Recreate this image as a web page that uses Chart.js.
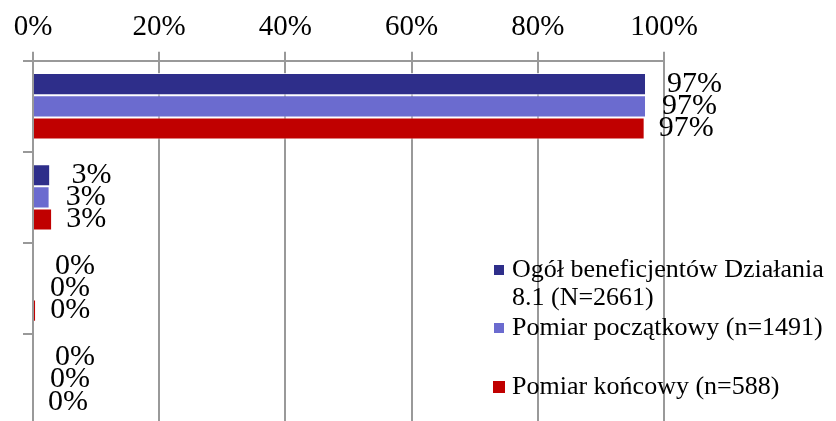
<!DOCTYPE html>
<html>
<head>
<meta charset="utf-8">
<script src="https://cdn.jsdelivr.net/npm/chart.js@4"></script>
<style>
  html, body { margin: 0; padding: 0; background: #fff; overflow: hidden; }
  #wrap { width: 836px; height: 426px; }
</style>
</head>
<body>
<div id="wrap"><canvas id="wykres"></canvas></div>
<script>
// Dane
const kategorie = ['A', 'B', 'C', 'D'];
const ogol = [97, 2.6, 0, 0];
const poczatkowy = [97, 2.5, 0, 0];
const koncowy = [96.8, 2.9, 0.35, 0];
const etykietyOsi = [0, 20, 40, 60, 80, 100];

const serif = "'Times New Roman', 'Liberation Serif', serif";
const szary = '#999999';

// Etykiety danych przy słupkach
const etykietyDanych = {
  id: 'etykietyDanych',
  afterDatasetsDraw(chart) {
    const ctx = chart.ctx;
    const przesuniecia = [22, 17, 15];
    ctx.save();
    ctx.font = '30px ' + serif;
    ctx.fillStyle = '#000';
    ctx.textAlign = 'left';
    ctx.textBaseline = 'middle';
    chart.data.datasets.forEach((ds, i) => {
      chart.getDatasetMeta(i).data.forEach((bar, j) => {
        ctx.fillText(Math.round(ds.data[j]) + '%', bar.x + przesuniecia[i], bar.y);
      });
    });
    ctx.restore();
  }
};

// Legenda w obszarze wykresu
const legenda = {
  id: 'legenda',
  afterDraw(chart) {
    const ctx = chart.ctx;
    const pozycje = [270, 328, 387];
    ctx.save();
    ctx.font = '26px ' + serif;
    ctx.textAlign = 'left';
    ctx.textBaseline = 'middle';
    chart.data.datasets.forEach((ds, i) => {
      const y = pozycje[i];
      const r = i === 2 ? 12 : 10;
      ctx.fillStyle = ds.backgroundColor;
      ctx.fillRect(499 - r / 2, y - r / 2, r, r);
      ctx.fillStyle = '#000';
      const linie = Array.isArray(ds.label) ? ds.label : [ds.label];
      linie.forEach((l, k) => ctx.fillText(l, 512, y + k * 28));
    });
    ctx.restore();
  }
};

const obramowanie = { top: 1, bottom: 1, left: 0, right: 0 };

new Chart(document.getElementById('wykres'), {
  type: 'bar',
  data: {
    labels: kategorie,
    datasets: [
      {
        label: ['Ogół beneficjentów Działania', '8.1 (N=2661)'],
        data: ogol,
        backgroundColor: '#2E2E8A',
        borderColor: 'rgba(255,255,255,0.8)',
        borderWidth: obramowanie
      },
      {
        label: 'Pomiar początkowy (n=1491)',
        data: poczatkowy,
        backgroundColor: '#6B6BCF',
        borderColor: 'rgba(255,255,255,0.8)',
        borderWidth: obramowanie
      },
      {
        label: 'Pomiar końcowy (n=588)',
        data: koncowy,
        backgroundColor: '#C00000',
        borderColor: 'rgba(255,255,255,0.8)',
        borderWidth: obramowanie
      }
    ]
  },
  options: {
    indexAxis: 'y',
    responsive: true,
    maintainAspectRatio: false,
    animation: false,
    layout: { padding: { top: 3, left: 23, right: 172, bottom: 1 } },
    datasets: { bar: { barPercentage: 1, categoryPercentage: 0.73 } },
    scales: {
      x: {
        position: 'top',
        min: 0,
        max: 100,
        afterBuildTicks(axis) {
          axis.ticks = etykietyOsi.map(v => ({ value: v }));
        },
        ticks: {
          font: { family: serif, size: 29 },
          color: '#000',
          padding: 7,
          maxRotation: 0,
          callback: v => v + '%'
        },
        grid: { color: szary, lineWidth: 2, tickLength: 9 },
        border: { color: szary, width: 2 }
      },
      y: {
        ticks: { display: false },
        grid: { drawOnChartArea: false, color: szary, lineWidth: 2, tickLength: 10, offset: true },
        border: { color: szary, width: 2 }
      }
    },
    plugins: {
      legend: { display: false },
      tooltip: { enabled: false }
    }
  },
  plugins: [etykietyDanych, legenda]
});
</script>
</body>
</html>
